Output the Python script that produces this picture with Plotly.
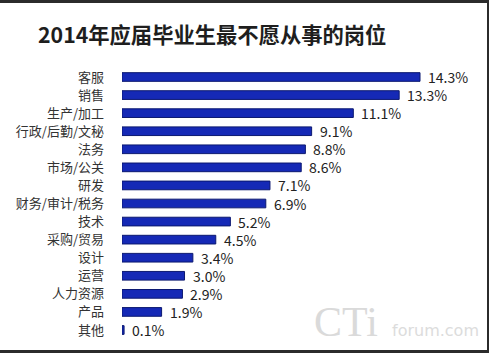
import plotly.graph_objects as go

categories = ["客服", "销售", "生产/加工", "行政/后勤/文秘", "法务", "市场/公关", "研发",
              "财务/审计/税务", "技术", "采购/贸易", "设计", "运营", "人力资源", "产品", "其他"]
values = [14.3, 13.3, 11.1, 9.1, 8.8, 8.6, 7.1, 6.9, 5.2, 4.5, 3.4, 3.0, 2.9, 1.9, 0.1]
value_labels = [f"{v:.1f}%" for v in values]
title_text = "2014年应届毕业生最不愿从事的岗位"

W, H = 489, 353
ML, MR, MT, MB = 122, 34, 65, 11
PW, PH = W - ML - MR, H - MT - MB
FONT = "Noto Sans CJK SC, Noto Sans, sans-serif"


def px_x(p):
    return (p - ML) / PW


def px_y(p):
    return (H - MB - p) / PH


fig = go.Figure()
fig.add_trace(go.Bar(
    y=categories, x=values, orientation="h",
    marker=dict(color="#1529b6", line=dict(color="#0b1870", width=1)),
    width=0.48,
    hoverinfo="skip",
))

annotations = []
for c, v, t in zip(categories, values, value_labels):
    annotations.append(dict(x=v, y=c, xref="x", yref="y", text=t, showarrow=False,
                            xanchor="left", xshift=6,
                            font=dict(family=FONT, size=14, color="#222")))

annotations.append(dict(x=px_x(36), y=px_y(34), xref="paper", yref="paper",
                        text="<b>" + title_text + "</b>", showarrow=False,
                        xanchor="left", yanchor="middle",
                        font=dict(family=FONT, size=21.3, color="#1e1e1e")))
# watermark
annotations.append(dict(x=px_x(312), y=px_y(322), xref="paper", yref="paper",
                        text="CTi", showarrow=False, xanchor="left", yanchor="middle",
                        font=dict(family="Liberation Serif, serif", size=42, color="#dadada")))
annotations.append(dict(x=px_x(390), y=px_y(330), xref="paper", yref="paper",
                        text="forum.com", showarrow=False, xanchor="left", yanchor="middle",
                        font=dict(family="DejaVu Sans, sans-serif", size=16, color="#dcdcdc")))

shapes = [dict(type="rect", xref="paper", yref="paper", layer="below",
               x0=px_x(0), x1=px_x(487), y0=px_y(350), y1=px_y(3),
               fillcolor="white", line=dict(width=0))]

fig.update_layout(
    width=W, height=H,
    margin=dict(l=ML, r=MR, t=MT, b=MB),
    paper_bgcolor="#2b2b2b",
    plot_bgcolor="rgba(0,0,0,0)",
    showlegend=False,
    annotations=annotations,
    shapes=shapes,
    xaxis=dict(range=[0, PW / 20.84], visible=False, fixedrange=True),
    yaxis=dict(autorange="reversed", showgrid=False, zeroline=False,
               showline=False, ticks="", ticklabelstandoff=17,
               tickfont=dict(family=FONT, size=13, color="#333"), fixedrange=True),
)

fig.write_html("out.html")
